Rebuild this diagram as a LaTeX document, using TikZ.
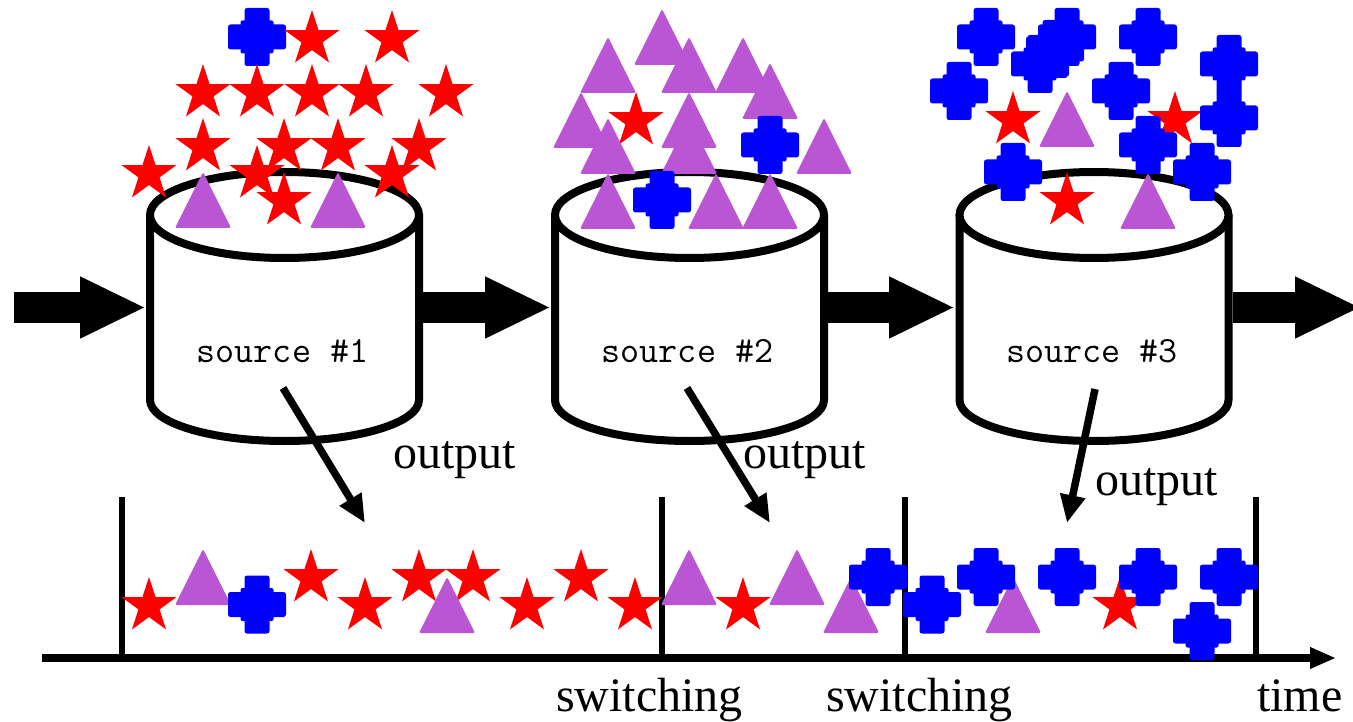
\documentclass[tikz,border=0pt]{standalone}
\usepackage{fontspec}
\setmainfont{Liberation Serif}
\usetikzlibrary{arrows.meta}
\definecolor{glyphred}{RGB}{255,0,0}
\definecolor{glyphblue}{RGB}{0,0,255}
\definecolor{glyphpurple}{RGB}{186,85,211}
\tikzset{
  % five-pointed star, centred on its circumcircle
  starglyph/.pic={
    \fill[glyphred] (-90:29) -- (-54:11.08) -- (-18:29) -- (18:11.08) -- (54:29)
      -- (90:11.08) -- (126:29) -- (162:11.08) -- (198:29) -- (234:11.08) -- cycle;
  },
  % upright triangle, centred halfway between apex and base
  triglyph/.pic={
    \fill[glyphpurple, rounded corners=1.5pt] (0,-28) -- (28,28) -- (-28,28) -- cycle;
  },
  % blocky plus sign
  crossglyph/.pic={
    \fill[glyphblue, rounded corners=2.5pt] (-12.5,-29) rectangle (12.5,29);
    \fill[glyphblue, rounded corners=2.5pt] (-29,-12.5) rectangle (29,12.5);
    \fill[glyphblue, rounded corners=2pt] (-16.5,-16.5) rectangle (16.5,16.5);
  },
  % storage cylinder, origin at the centre of the top ellipse
  cylbody/.pic={
    \filldraw[fill=white, line width=8pt] (-134.5,0) -- (-134.5,185)
      .. controls (-134.5,207.6) and (-74.3,226) .. (0,226)
      .. controls (74.3,226) and (134.5,207.6) .. (134.5,185) -- (134.5,0);
    \filldraw[fill=white, line width=8pt] (0,0) ellipse [x radius=134.5, y radius=43];
  },
  blockarrow/.style={line width=31pt, -{Triangle[length=66pt,width=57pt]}},
  outarrow/.style={line width=7.5pt, -{Triangle[length=28pt,width=24pt]}},
  timeaxis/.style={line width=7.5pt, -{Triangle[length=26pt,width=20pt]}},
  marker/.style={line width=6.5pt},
  srclabel/.style={font=\ttfamily\fontsize{37}{40}\selectfont, inner sep=0pt, outer sep=0pt, anchor=base},
  txt/.style={font=\fontsize{48}{56}\selectfont, inner sep=0pt, outer sep=0pt, anchor=base west},
}
\begin{document}
\begin{tikzpicture}[x=1pt, y=-1pt]
\useasboundingbox (0,0) rectangle (1353,722);
\clip (0,0) rectangle (1353,722);

% cylinders
\coordinate (cyl1) at (284.5,215);
\coordinate (cyl2) at (689.5,215);
\coordinate (cyl3) at (1094,215);
\pic at (cyl1) {cylbody};
\pic at (cyl2) {cylbody};
\pic at (cyl3) {cylbody};

\node[srclabel] (src1) at (282.5,362) {source \#1};
\node[srclabel] (src2) at (687.5,362) {source \#2};
\node[srclabel] (src3) at (1092,362) {source \#3};

% flow through the chain of sources
\coordinate (feed)  at (14,307.5);
\coordinate (cyl1W) at (146,307.5);
\coordinate (cyl1E) at (423,307.5);
\coordinate (cyl2W) at (551,307.5);
\coordinate (cyl2E) at (828,307.5);
\coordinate (cyl3W) at (955,307.5);
\coordinate (cyl3E) at (1233,307.5);
\coordinate (drain) at (1361,307.5);
\draw[blockarrow] (feed)  -- (cyl1W);
\draw[blockarrow] (cyl1E) -- (cyl2W);
\draw[blockarrow] (cyl2E) -- (cyl3W);
\draw[blockarrow] (cyl3E) -- (drain);

% output arrows
\coordinate (out1s) at (283,388);
\coordinate (out1e) at (365,523);
\coordinate (out2s) at (687,388);
\coordinate (out2e) at (770,523);
\coordinate (out3s) at (1095,389);
\coordinate (out3e) at (1067,523);
\draw[outarrow] (out1s) -- (out1e);
\draw[outarrow] (out2s) -- (out2e);
\draw[outarrow] (out3s) -- (out3e);

\node[txt] (lab1) at (393,468) {output};
\node[txt] (lab2) at (743,468) {output};
\node[txt] (lab3) at (1095,495) {output};

% time axis and switching markers
\coordinate (t0) at (42,658);
\coordinate (t1) at (1336,658);
\draw[timeaxis] (t0) -- (t1);
\foreach \mx [count=\i] in {122,662,905,1256} {
  \coordinate (mk\i top) at (\mx,497);
  \coordinate (mk\i bot) at (\mx,658);
  \draw[marker] (mk\i top) -- (mk\i bot);
}
\node[txt] (sw1) at (556,711) {switching};
\node[txt] (sw2) at (826,711) {switching};
\node[txt] (tm) at (1257,711) {time};

% contents of source #1
\pic at (257,37) {crossglyph};
\foreach \x/\y in {312/39,392/39,203/93,257/93,312/93,366/93,446/93,
                   203/147,284/147,338/147,419/147,149/174,257/174,392/174,284/201}
  \pic at (\x,\y) {starglyph};
\foreach \x/\y in {203/200,338/200} \pic at (\x,\y) {triglyph};

% contents of source #2
\foreach \x/\y in {662/37,608/65,689/65,743/65,770/91,581/120,689/120}
  \pic at (\x,\y) {triglyph};
\pic at (636,121) {starglyph};
\foreach \x/\y in {608/146,689/146,824/146,608/201,716/201,770/201}
  \pic at (\x,\y) {triglyph};
\foreach \x/\y in {770/145,662/200} \pic at (\x,\y) {crossglyph};

% contents of source #3
\foreach \x/\y in {1013/120,1175/120,1067/201} \pic at (\x,\y) {starglyph};
\foreach \x/\y in {1067/119,1148/201} \pic at (\x,\y) {triglyph};
\foreach \x/\y in {986/37,1067/37,1055/49,1040/64,959/91,1148/37,1121/91,
                   1229/64,1229/118,1148/145,1202/172,1013/172}
  \pic at (\x,\y) {crossglyph};

% emitted sequence along the time axis
\foreach \x/\y in {149/606,311/578,365/606,419/578,473/578,527/606,581/578,
                   635/606,743/606,1120/606}
  \pic at (\x,\y) {starglyph};
\foreach \x/\y in {203/577,447/605,689/577,797/577,851/605,1013/605}
  \pic at (\x,\y) {triglyph};
\foreach \x/\y in {257/604.5,878/577,932/604.5,986/577,1067/577,1148/577,1229/577,1202/631}
  \pic at (\x,\y) {crossglyph};
\end{tikzpicture}
\end{document}
